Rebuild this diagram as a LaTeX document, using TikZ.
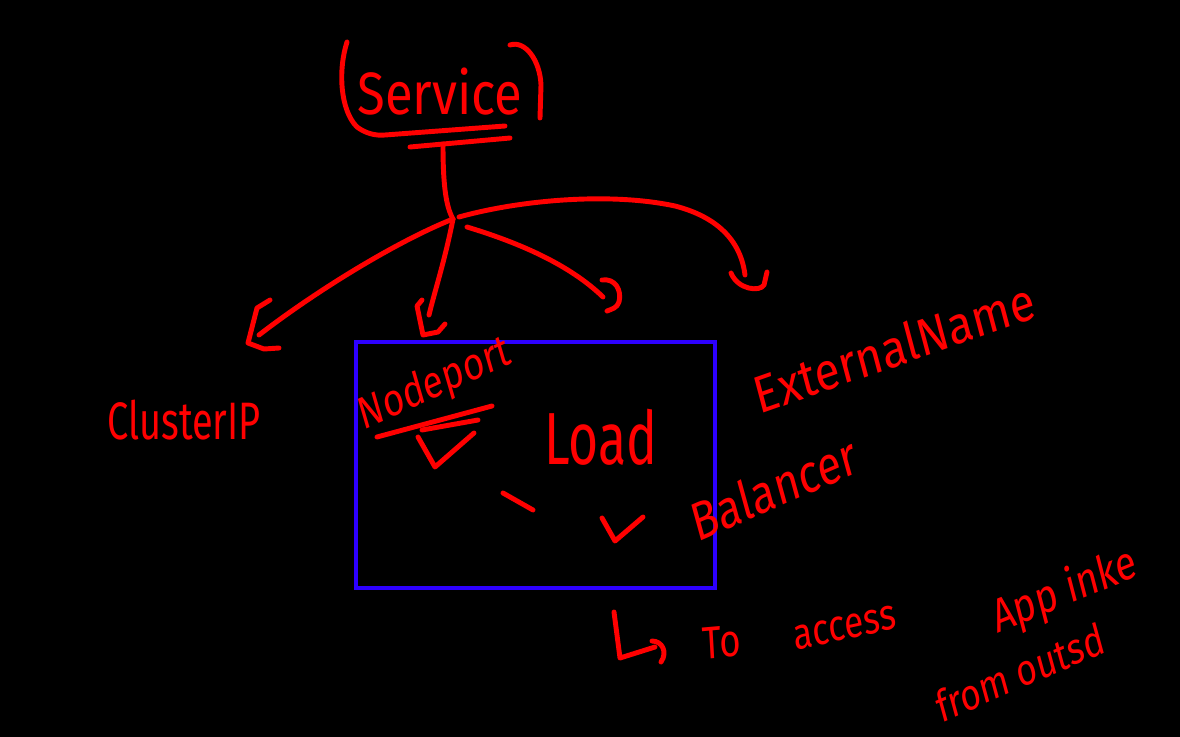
\documentclass[tikz,border=0pt]{standalone}
\usepackage{fontspec}
\setmainfont{Fira Sans}
\definecolor{ink}{RGB}{255,0,0}
\definecolor{boxblue}{RGB}{45,0,255}
\begin{document}
\begin{tikzpicture}[x=0.02cm,y=-0.02cm,
  pen/.style={draw=ink,line width=2.8pt,line cap=round,line join=round},
  hw/.style={text=ink,inner sep=0pt}]
\fill[black] (0,0) rectangle (1180,737);
\useasboundingbox (0,0) rectangle (1180,737);
% Service
\node[hw,font=\fontsize{34}{40}\selectfont,xscale=0.85] (service) at (440,92) {Service};
\draw[pen] (347,42) .. controls (338,70) and (340,110) .. (357,127) .. controls (365,133) and (375,136) .. (385,135) -- (505,126);
\draw[pen] (510,45) .. controls (525,40) and (540,60) .. (541,85) -- (540,118);
\draw[pen] (410,147) -- (510,138);
\coordinate (bar) at (443,144);
\coordinate (hub) at (453,219);
\draw[pen] (bar) .. controls (443,180) and (445,205) .. (hub);
% branch to ClusterIP
\coordinate (e1) at (259,335);
\draw[pen] (hub) .. controls (400,240) and (320,288) .. (e1);
\draw[pen] (270,300) -- (257,308) -- (248,343) -- (264,349) -- (279,348);
% branch to Nodeport
\coordinate (e2) at (429,315);
\draw[pen] (hub) .. controls (445,260) and (435,290) .. (e2);
\draw[pen] (422,300) -- (417,306) -- (423,335) -- (438,332) -- (445,324);
% branch to Load Balancer
\coordinate (s3) at (467,227);
\coordinate (e3) at (603,297);
\draw[pen] (s3) .. controls (520,243) and (570,265) .. (e3);
\draw[pen] (602,280) .. controls (615,278) and (622,290) .. (619,302) .. controls (617,308) and (612,309) .. (607,311);
% branch to ExternalName
\coordinate (s4) at (459,217);
\coordinate (e4) at (745,275);
\draw[pen] (s4) .. controls (520,200) and (610,192) .. (675,206) .. controls (710,215) and (740,235) .. (e4);
\draw[pen] (731,273) .. controls (738,290) and (760,292) .. (764,285) -- (767,272);
% box
\draw[draw=boxblue,line width=2.3pt] (356,342) rectangle (715,588);
% labels
\node[hw,font=\fontsize{30}{36}\selectfont,xscale=0.72] (cluster) at (184,420) {ClusterIP};
\node[hw,font=\fontsize{26}{30}\selectfont,xscale=0.8,rotate=20] (nodeport) at (435,385) {Nodeport};
\draw[pen] (377,437) -- (492,406);
\draw[pen] (422,430) -- (478,420);
\draw[pen] (418,437) -- (435,467) -- (474,433);
\node[hw,font=\fontsize{42}{48}\selectfont,xscale=0.7] (load) at (601,437) {Load};
\draw[pen] (503,493) -- (533,510);
\draw[pen] (602,518) -- (615,541) -- (643,517);
\node[hw,font=\fontsize{31}{36}\selectfont,xscale=0.8,rotate=19] (balancer) at (774,488) {Balancer};
\node[hw,font=\fontsize{30}{36}\selectfont,xscale=0.87,rotate=17] (external) at (894,347) {ExternalName};
% note
\draw[pen] (614,612) -- (620,658) -- (655,647);
\draw[pen] (652,641) .. controls (662,641) and (668,652) .. (661,662);
\node[hw,font=\fontsize{26}{30}\selectfont,xscale=0.8,rotate=4] (to) at (722,642) {To};
\node[hw,font=\fontsize{25}{30}\selectfont,xscale=0.8,rotate=10] (access) at (845,628) {access};
\node[hw,font=\fontsize{27}{30}\selectfont,xscale=0.8,rotate=18] (app) at (1065,592) {App inke};
\node[hw,font=\fontsize{25}{30}\selectfont,xscale=0.8,rotate=19] (from) at (1020,672) {from outsd};
\end{tikzpicture}
\end{document}
